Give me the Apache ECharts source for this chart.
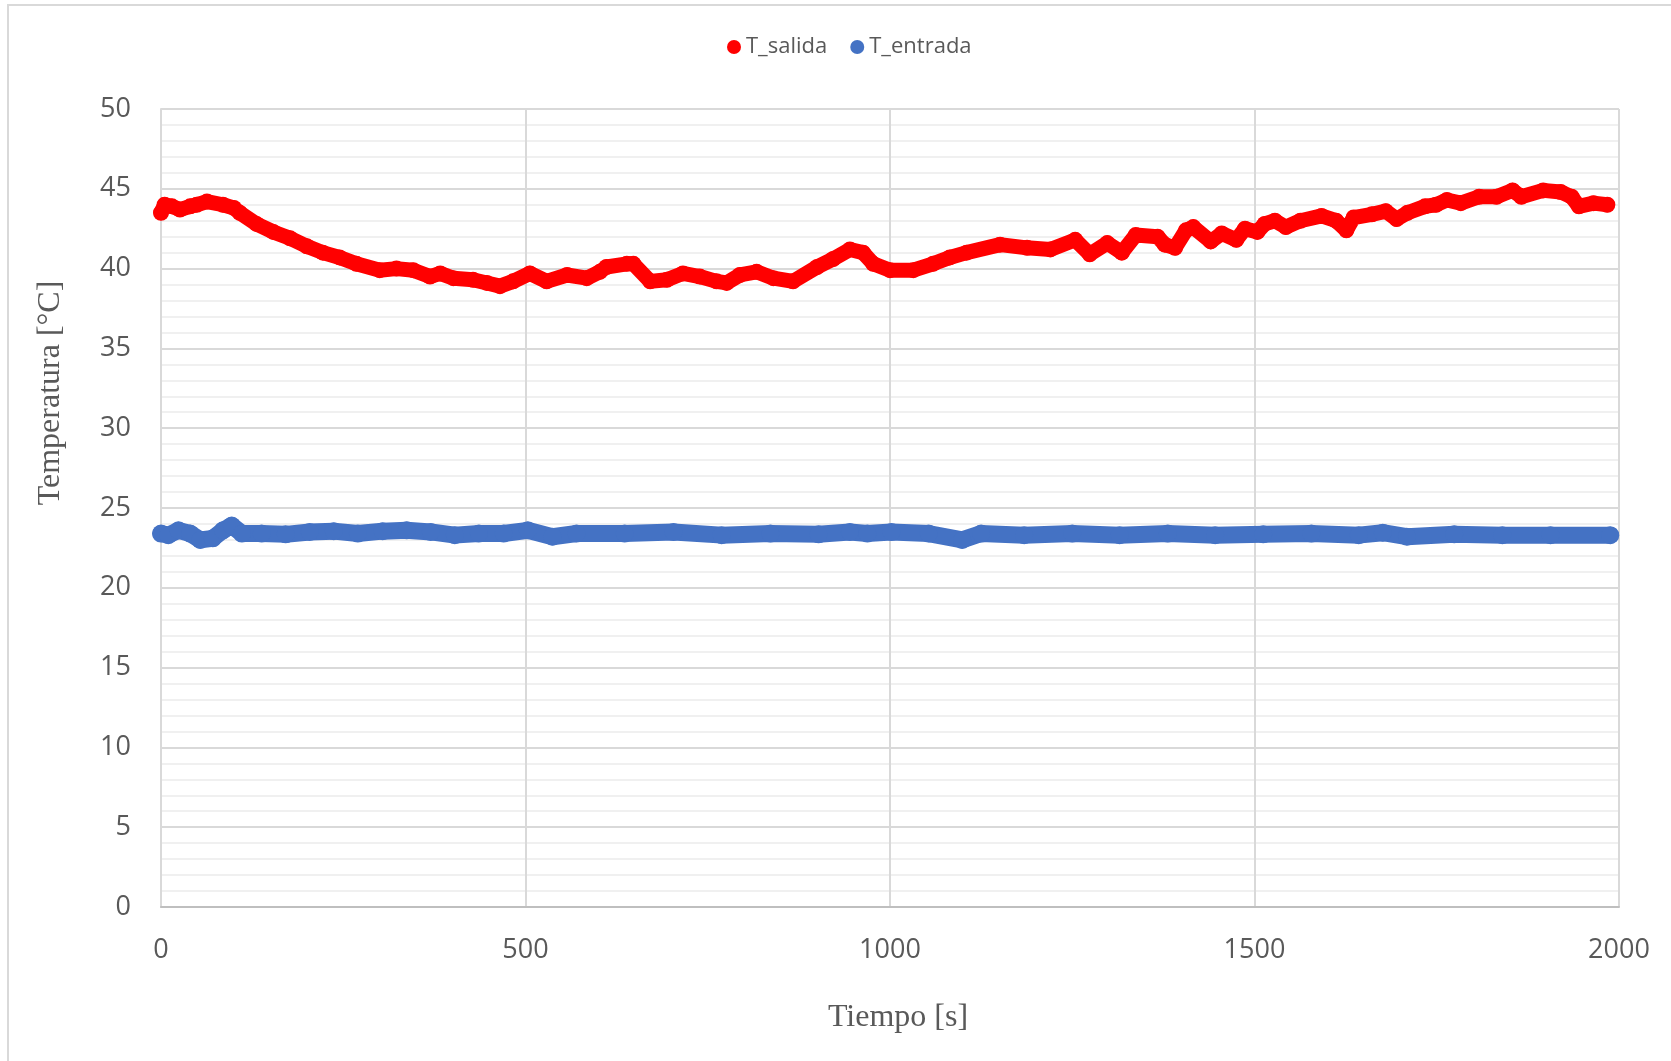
<!DOCTYPE html>
<html>
<head>
	<meta charset="utf-8">
	<title>T_salida / T_entrada</title>
	<script type="text/javascript" src="https://cdn.jsdelivr.net/npm/echarts@6/dist/echarts.min.js"></script>
	<style>
		body { margin: 0; background: #fff; }
	</style>
</head>

<body>
	<div style="height: 1061px; width: 1671px" id="temps"></div>

	<script type="text/javascript">
		// datos
		var tSalida = [0, 5, 15, 26, 40, 49, 63, 85, 100, 108, 131, 154, 177, 200, 222, 245, 268, 300, 323, 346,
			369, 383, 401, 428, 447, 465, 483, 506, 529, 557, 584, 602, 611, 639, 648, 671, 694, 716, 739, 762,
			776, 794, 817, 840, 867, 900, 922, 945, 963, 977, 1000, 1032, 1059, 1082, 1105, 1151, 1188, 1220, 1254, 1274,
			1298, 1318, 1337, 1367, 1377, 1391, 1406, 1416, 1440, 1455, 1475, 1487, 1504, 1514, 1528, 1543, 1563, 1592, 1612, 1626,
			1636, 1661, 1680, 1695, 1710, 1734, 1749, 1764, 1783, 1808, 1832, 1854, 1866, 1896, 1920, 1935, 1945, 1965, 1984]
		var vSalida = [43.5, 44.0, 43.9, 43.7, 43.9, 44.0, 44.2, 44.0, 43.8, 43.5, 42.8, 42.3, 41.9, 41.4, 41.0, 40.7, 40.3, 39.9, 40.0, 39.9,
			39.5, 39.7, 39.4, 39.3, 39.1, 38.9, 39.2, 39.7, 39.2, 39.6, 39.4, 39.8, 40.1, 40.3, 40.3, 39.2, 39.3, 39.7, 39.5, 39.2,
			39.1, 39.6, 39.8, 39.4, 39.2, 40.1, 40.6, 41.2, 41.0, 40.3, 39.9, 39.9, 40.3, 40.7, 41.0, 41.5, 41.3, 41.2, 41.8, 40.9,
			41.6, 41.0, 42.1, 42.0, 41.5, 41.3, 42.4, 42.6, 41.7, 42.2, 41.8, 42.5, 42.3, 42.8, 43.0, 42.6, 43.0, 43.3, 43.0, 42.4,
			43.2, 43.4, 43.6, 43.1, 43.5, 43.9, 44.0, 44.3, 44.1, 44.5, 44.5, 44.9, 44.5, 44.9, 44.8, 44.5, 43.9, 44.1, 44.0]

		var tEntrada = [0, 10, 24, 40, 54, 71, 85, 97, 111, 138, 171, 204, 237, 270, 304, 337, 370, 403, 436, 470,
			503, 537, 570, 636, 703, 769, 836, 902, 945, 969, 1002, 1053, 1099, 1125, 1184, 1250, 1315, 1381, 1446, 1512,
			1578, 1643, 1676, 1709, 1774, 1840, 1906, 1988]
		var vEntrada = [23.4, 23.3, 23.6, 23.4, 23.0, 23.1, 23.6, 23.9, 23.4, 23.4, 23.35, 23.5, 23.55, 23.4, 23.55, 23.6, 23.5, 23.3, 23.4, 23.4,
			23.6, 23.2, 23.4, 23.4, 23.5, 23.3, 23.4, 23.35, 23.5, 23.4, 23.5, 23.4, 23.0, 23.4, 23.3, 23.4, 23.3, 23.4, 23.3, 23.35,
			23.4, 23.3, 23.45, 23.2, 23.35, 23.3, 23.3, 23.3]

		var xTicks = [0, 500, 1000, 1500, 2000]
		var yTicks = [0, 5, 10, 15, 20, 25, 30, 35, 40, 45, 50]

		function pares(xs, ys){
			var lst = []
			for (var i = 0; i < xs.length; i++){
				lst.push([xs[i], ys[i]])
			}
			return lst
		}

		var chart = echarts.init(document.getElementById('temps'));

		var labelFont = { color: '#595959', fontSize: 27, fontFamily: '"Open Sans", sans-serif' }
		var titleFont = '32px "Liberation Serif", serif'

		var option = {
			animation: false,
			backgroundColor: '#fff',
			graphic: [
				{
					type: 'rect',
					shape: { x: 8, y: 5, width: 1700, height: 1100 },
					style: { fill: 'none', stroke: '#d9d9d9', lineWidth: 2 },
					silent: true
				},
				{
					// titulo eje x
					type: 'text',
					x: 898, y: 1018,
					style: { text: 'Tiempo [s]', font: titleFont, fill: '#595959', textAlign: 'center', textVerticalAlign: 'middle' }
				},
				{
					// titulo eje y
					type: 'text',
					x: 51, y: 393,
					rotation: Math.PI / 2,
					style: { text: 'Temperatura [°C]', font: titleFont, fill: '#595959', textAlign: 'center', textVerticalAlign: 'middle' }
				}
			],
			legend: {
				top: 31,
				left: 722,
				icon: 'circle',
				itemWidth: 14,
				itemHeight: 14,
				itemGap: 23,
				textStyle: { color: '#595959', fontSize: 22, fontFamily: '"Open Sans", sans-serif' },
				data: ['T_salida', 'T_entrada']
			},
			grid: {
				left: 161,
				right: 52,
				top: 109,
				bottom: 154
			},
			xAxis: {
				type: 'value',
				min: xTicks[0],
				max: xTicks[xTicks.length - 1],
				interval: 500,
				axisLine: { show: true, lineStyle: { color: '#bfbfbf', width: 2 } },
				axisTick: { show: false },
				axisLabel: Object.assign({ margin: 30, formatter: function (v) { return String(v) } }, labelFont),
				splitLine: { show: true, lineStyle: { color: '#d9d9d9', width: 2 } }
			},
			yAxis: {
				type: 'value',
				min: yTicks[0],
				max: yTicks[yTicks.length - 1],
				interval: 5,
				axisLine: { show: true, lineStyle: { color: '#d9d9d9', width: 2 } },
				axisTick: { show: false },
				axisLabel: Object.assign({ margin: 30 }, labelFont),
				splitLine: { show: true, lineStyle: { color: '#d9d9d9', width: 2 } },
				minorTick: { show: false, splitNumber: 5 },
				minorSplitLine: { show: true, lineStyle: { color: '#f0f0f0', width: 2 } }
			},
			series: [
				{
					name: 'T_salida',
					type: 'line',
					color: '#ff0000',
					data: pares(tSalida, vSalida),
					symbol: 'circle',
					symbolSize: 16,
					showSymbol: true,
					showAllSymbol: true,
					lineStyle: { width: 15, cap: 'round', join: 'round' }
				},
				{
					name: 'T_entrada',
					type: 'line',
					color: '#4472c4',
					data: pares(tEntrada, vEntrada),
					symbol: 'circle',
					symbolSize: 18,
					showSymbol: true,
					showAllSymbol: true,
					lineStyle: { width: 17, cap: 'round', join: 'round' }
				}
			]
		};

		chart.setOption(option);
	</script>
</body>
</html>
